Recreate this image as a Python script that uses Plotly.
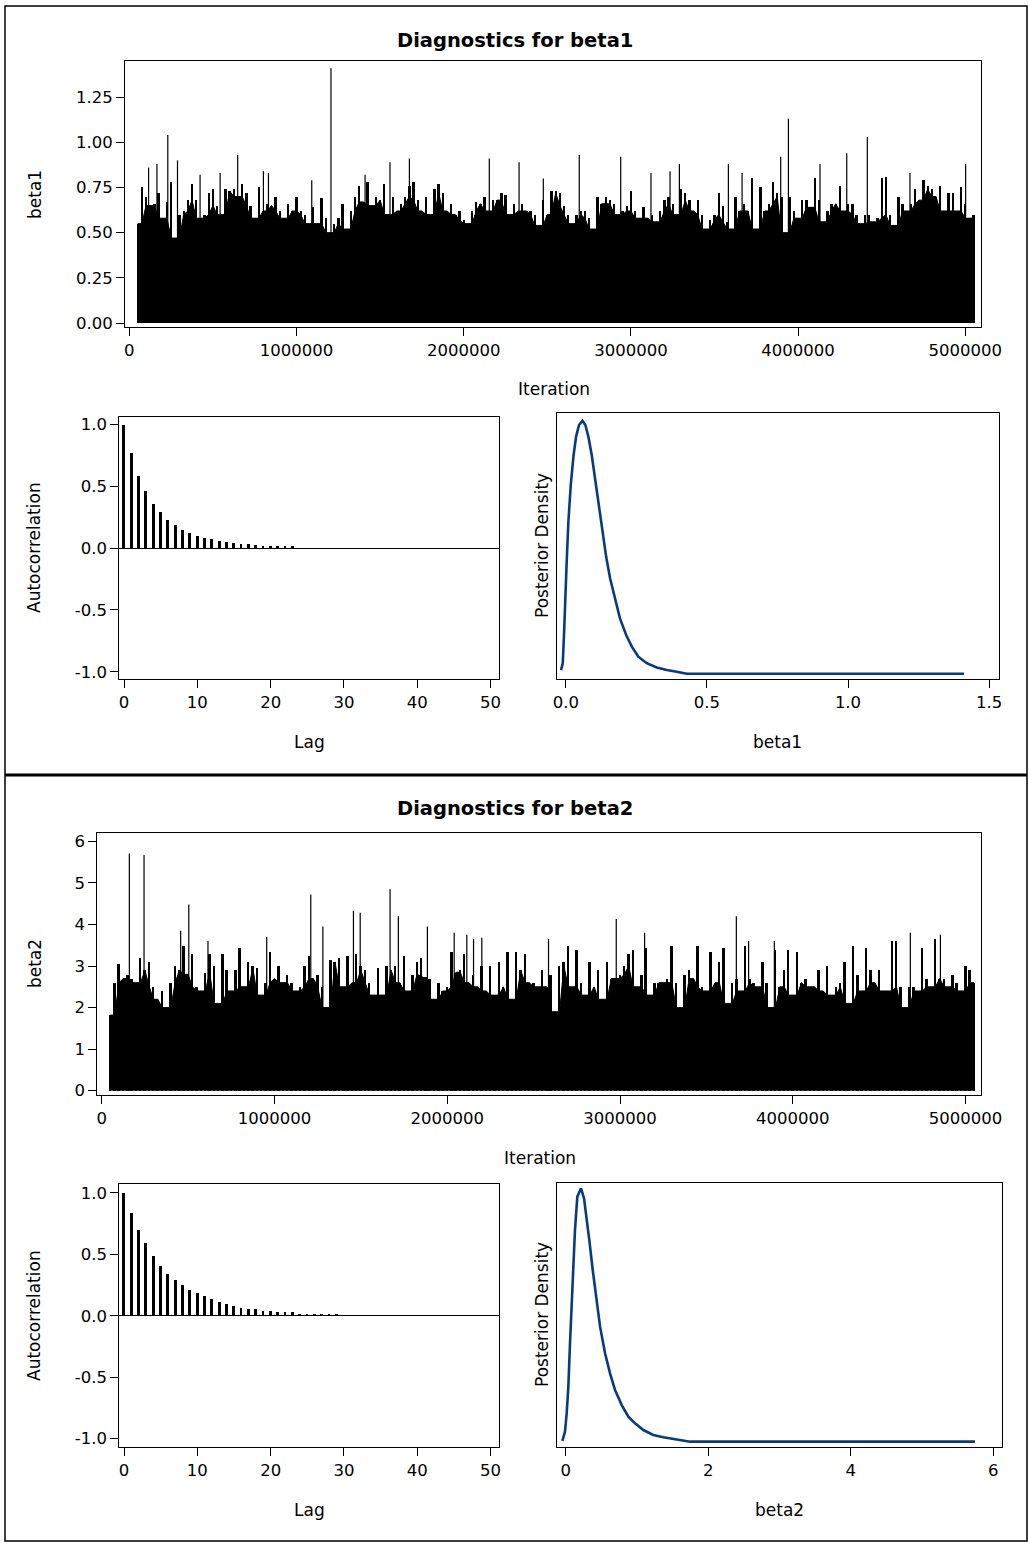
import plotly.graph_objects as go

# upper envelope of the MCMC trace, read every 25000 iterations from 50000 on
beta1_trace = [
    0.55, 0.75, 0.70, 0.65, 0.66, 0.72, 0.58, 0.67, 0.78, 0.47,
    0.60, 0.62, 0.68, 0.77, 0.68, 0.58, 0.60, 0.72, 0.74, 0.65,
    0.60, 0.74, 0.73, 0.74, 0.70, 0.77, 0.72, 0.65, 0.58, 0.75,
    0.62, 0.66, 0.65, 0.70, 0.62, 0.58, 0.66, 0.62, 0.70, 0.62,
    0.60, 0.55, 0.64, 0.55, 0.69, 0.58, 0.50, 0.55, 0.58, 0.66,
    0.52, 0.62, 0.70, 0.76, 0.67, 0.78, 0.65, 0.70, 0.68, 0.77,
    0.60, 0.70, 0.62, 0.66, 0.70, 0.76, 0.78, 0.68, 0.62, 0.70,
    0.60, 0.74, 0.77, 0.72, 0.62, 0.66, 0.60, 0.62, 0.57, 0.55,
    0.62, 0.67, 0.66, 0.70, 0.62, 0.68, 0.68, 0.72, 0.71, 0.60,
    0.66, 0.62, 0.66, 0.62, 0.62, 0.60, 0.54, 0.68, 0.60, 0.73,
    0.73, 0.72, 0.65, 0.60, 0.55, 0.60, 0.62, 0.62, 0.58, 0.52,
    0.70, 0.66, 0.70, 0.68, 0.66, 0.60, 0.62, 0.65, 0.73, 0.62,
    0.58, 0.64, 0.58, 0.60, 0.56, 0.62, 0.68, 0.70, 0.66, 0.60,
    0.74, 0.72, 0.68, 0.62, 0.68, 0.60, 0.52, 0.57, 0.60, 0.72,
    0.65, 0.56, 0.52, 0.70, 0.62, 0.66, 0.62, 0.80, 0.52, 0.75,
    0.62, 0.66, 0.78, 0.72, 0.70, 0.50, 0.70, 0.62, 0.58, 0.68,
    0.68, 0.64, 0.80, 0.68, 0.56, 0.62, 0.66, 0.66, 0.76, 0.62,
    0.66, 0.66, 0.60, 0.55, 0.60, 0.60, 0.56, 0.58, 0.80, 0.81,
    0.60, 0.54, 0.70, 0.66, 0.62, 0.66, 0.74, 0.68, 0.79, 0.76,
    0.74, 0.70, 0.76, 0.62, 0.72, 0.72, 0.62, 0.75, 0.66, 0.58,
    0.60,
]
beta1_spike_iter = [115000, 165000, 230000, 288000, 423000, 543000, 648000, 802000,
                    832000, 1091000, 1206000, 1410000, 1559000, 1675000, 2153000,
                    2331000, 2476000, 2691000, 2939000, 3120000, 3234000, 3290000,
                    3583000, 3665000, 3896000, 3942000, 4131000, 4291000, 4414000,
                    4669000, 5002000]
beta1_spike_val = [0.86, 0.88, 1.04, 0.90, 0.82, 0.83, 0.93, 0.84,
                   0.83, 0.79, 1.41, 0.82, 0.89, 0.91, 0.91,
                   0.89, 0.80, 0.93, 0.92, 0.83, 0.84, 0.88,
                   0.88, 0.83, 0.92, 1.13, 0.88, 0.94, 1.03,
                   0.83, 0.88]

beta2_trace = [
    1.82, 2.60, 3.05, 2.70, 2.80, 2.70, 2.60, 3.20, 2.90, 3.10,
    2.50, 2.20, 2.40, 2.00, 2.60, 3.00, 2.90, 3.50, 2.80, 3.30,
    2.50, 2.40, 2.85, 3.30, 3.00, 2.10, 3.30, 2.90, 2.40, 2.90,
    3.45, 2.50, 3.10, 3.00, 2.95, 2.30, 2.60, 3.35, 2.70, 3.00,
    2.60, 2.80, 2.60, 2.40, 2.50, 3.00, 3.25, 2.70, 2.80, 2.50,
    2.00, 3.15, 3.10, 3.20, 2.50, 3.25, 2.60, 3.30, 3.00, 2.90,
    2.60, 2.30, 2.95, 2.30, 3.00, 2.90, 3.00, 2.60, 3.25, 2.40,
    2.80, 3.10, 3.20, 2.75, 2.70, 2.20, 2.60, 2.40, 2.50, 3.35,
    2.85, 2.90, 3.30, 2.60, 2.80, 2.50, 3.00, 2.40, 3.00, 2.30,
    3.10, 2.50, 3.35, 2.20, 3.35, 2.90, 3.30, 2.60, 2.60, 2.50,
    2.90, 2.50, 2.80, 1.90, 3.00, 3.10, 3.50, 2.50, 3.40, 2.60,
    2.30, 3.10, 2.50, 2.90, 2.20, 3.10, 2.70, 2.70, 2.80, 3.00,
    3.30, 3.40, 2.50, 2.80, 3.45, 2.30, 2.60, 2.60, 2.60, 2.70,
    3.50, 2.60, 2.00, 2.80, 2.90, 2.70, 3.50, 2.50, 2.40, 3.35,
    2.60, 3.10, 3.45, 2.10, 2.60, 2.70, 2.40, 3.50, 2.70, 2.60,
    2.50, 3.10, 2.60, 2.00, 3.40, 2.50, 2.90, 3.40, 2.30, 3.35,
    2.60, 2.70, 2.50, 2.50, 2.90, 2.40, 3.00, 2.30, 2.50, 2.60,
    3.10, 2.10, 3.50, 2.80, 2.40, 3.45, 2.90, 2.60, 2.90, 2.40,
    2.40, 3.60, 3.60, 2.50, 2.00, 2.50, 2.50, 2.40, 3.45, 2.70,
    2.50, 3.65, 2.70, 2.70, 2.50, 2.80, 2.60, 2.40, 3.00, 2.90,
    2.60,
]
beta2_spike_iter = [160000, 245000, 457000, 504000, 615000, 955000, 1210000, 1280000,
                    1457000, 1496000, 1669000, 1717000, 1885000, 2040000, 2113000,
                    2152000, 2200000, 2586000, 2978000, 3142000, 3673000, 3744000,
                    3893000, 4680000, 4854000]
beta2_spike_val = [5.71, 5.67, 3.85, 4.48, 3.60, 3.70, 4.72, 3.95,
                   4.33, 4.28, 4.85, 4.20, 3.95, 3.80, 3.75,
                   3.65, 3.68, 3.65, 4.13, 3.80, 4.20, 3.60,
                   3.60, 3.80, 3.75]

# autocorrelations
beta1_acf = [1.0, 0.77, 0.586, 0.462, 0.357, 0.29, 0.226, 0.188, 0.15, 0.124,
             0.10, 0.086, 0.073, 0.059, 0.048, 0.046, 0.035, 0.032, 0.024, 0.022,
             0.02, 0.019, 0.018, 0.018]
beta2_acf = [1.0, 0.837, 0.692, 0.589, 0.482, 0.403, 0.341, 0.286, 0.248, 0.207,
             0.183, 0.158, 0.131, 0.106, 0.093, 0.076, 0.065, 0.052, 0.052, 0.038,
             0.038, 0.027, 0.025, 0.025, 0.016, 0.014, 0.014, 0.013, 0.013, 0.011]

# posterior densities
beta1_x = [-0.0167, -0.0107, -0.006, -0.0025, 0.0035, 0.0093, 0.0177, 0.027, 0.0365, 0.047,
           0.059, 0.0695, 0.080, 0.092, 0.104, 0.1157, 0.1275, 0.143, 0.157, 0.175,
           0.192, 0.214, 0.234, 0.257, 0.287, 0.322, 0.358, 0.393, 0.429, 1.411]
beta1_dens = [0.10, 0.29, 1.12, 1.99, 3.14, 4.21, 5.22, 6.00, 6.56, 6.88,
              7.00, 6.88, 6.56, 6.05, 5.40, 4.67, 4.02, 3.24, 2.64, 2.04,
              1.53, 1.07, 0.75, 0.47, 0.29, 0.17, 0.10, 0.055, 0.0, 0.0]
beta2_x = [-0.047, -0.0098, 0.0136, 0.037, 0.060, 0.084, 0.107, 0.130, 0.163, 0.215,
           0.257, 0.294, 0.331, 0.379, 0.435, 0.482, 0.552, 0.622, 0.692, 0.786,
           0.879, 0.973, 1.089, 1.229, 1.370, 1.557, 1.745, 5.743]
beta2_dens = [0.006, 0.087, 0.246, 0.478, 0.854, 1.216, 1.549, 1.838, 2.128, 2.2,
              2.113, 1.954, 1.751, 1.491, 1.201, 0.999, 0.767, 0.593, 0.449, 0.318,
              0.217, 0.159, 0.101, 0.058, 0.038, 0.020, 0.0, 0.0]

W, H = 1029, 1542
FONT = 'DejaVu Sans'
DENS_COLOR = '#083a7e'


def px(x):
    return x / W


def py(y):
    return 1 - y / H


def spikes(its, vals):
    xs, ys = [], []
    for it, v in zip(its, vals):
        xs += [it, it, None]
        ys += [0, v, None]
    return xs, ys


fig = go.Figure()

for trace, s_it, s_val, ax in [(beta1_trace, beta1_spike_iter, beta1_spike_val, 1),
                               (beta2_trace, beta2_spike_iter, beta2_spike_val, 4)]:
    its = [50000 + 25000 * i for i in range(len(trace))]
    xa = 'x' if ax == 1 else 'x%d' % ax
    ya = 'y' if ax == 1 else 'y%d' % ax
    # solid body of the trace: lowest of each neighbourhood
    n = len(trace)
    body = [min(trace[max(i - 1, 0):min(i + 2, n)]) for i in range(n)]
    fig.add_trace(go.Scatter(x=its, y=body, mode='lines', line=dict(color='black', width=1),
                             fill='tozeroy', fillcolor='black', xaxis=xa, yaxis=ya,
                             hoverinfo='skip'))
    # needles up to the envelope
    fig.add_trace(go.Bar(x=its, y=trace, width=14000, marker=dict(color='black', line=dict(width=0)),
                         xaxis=xa, yaxis=ya, hoverinfo='skip'))
    sx, sy = spikes(s_it, s_val)
    fig.add_trace(go.Scatter(x=sx, y=sy, mode='lines', line=dict(color='black', width=1.2),
                             xaxis=xa, yaxis=ya, hoverinfo='skip'))

fig.add_trace(go.Bar(x=list(range(len(beta1_acf))), y=beta1_acf, width=0.4,
                     marker=dict(color='black', line=dict(width=0)), xaxis='x2', yaxis='y2'))
fig.add_trace(go.Bar(x=list(range(len(beta2_acf))), y=beta2_acf, width=0.4,
                     marker=dict(color='black', line=dict(width=0)), xaxis='x5', yaxis='y5'))

fig.add_trace(go.Scatter(x=beta1_x, y=beta1_dens, mode='lines',
                         line=dict(color=DENS_COLOR, width=2.6), xaxis='x3', yaxis='y3'))
fig.add_trace(go.Scatter(x=beta2_x, y=beta2_dens, mode='lines',
                         line=dict(color=DENS_COLOR, width=2.6), xaxis='x6', yaxis='y6'))

axis_style = dict(showline=True, mirror=True, linecolor='black', linewidth=1,
                  ticks='outside', ticklen=8, tickwidth=1, tickcolor='black',
                  showgrid=False, zeroline=False, automargin=False,
                  tickfont=dict(family=FONT, size=16.5, color='black'))

iter_ticks = [0, 1000000, 2000000, 3000000, 4000000, 5000000]
iter_text = ['0', '1000000', '2000000', '3000000', '4000000', '5000000']
acf_ticks = [-1, -0.5, 0, 0.5, 1]
acf_text = ['-1.0', '-0.5', '0.0', '0.5', '1.0']

layout = dict(
    template='none',
    width=W, height=H, autosize=False,
    margin=dict(l=0, r=0, t=0, b=0, pad=0),
    paper_bgcolor='white', plot_bgcolor='white',
    showlegend=False, bargap=0, barmode='overlay',
    font=dict(family=FONT, color='black'),
    # beta1 trace
    xaxis=dict(domain=[px(125), px(981)], anchor='y', range=[-26000, 5094000],
               tickvals=iter_ticks, ticktext=iter_text, **axis_style),
    yaxis=dict(domain=[py(327), py(61)], anchor='x', range=[-0.022, 1.45],
               tickvals=[0, 0.25, 0.5, 0.75, 1.0, 1.25],
               ticktext=['0.00', '0.25', '0.50', '0.75', '1.00', '1.25'], **axis_style),
    # beta1 autocorrelation
    xaxis2=dict(domain=[px(119.3), px(499.3)], anchor='y2', range=[-0.65, 51.2],
                tickvals=[0, 10, 20, 30, 40, 50], **axis_style),
    yaxis2=dict(domain=[py(679.3), py(416.7)], anchor='x2', range=[-1.061, 1.061],
                tickvals=acf_ticks, ticktext=acf_text, **axis_style),
    # beta1 density
    xaxis3=dict(domain=[px(557.3), px(999)], anchor='y3', range=[-0.030, 1.535],
                tickvals=[0, 0.5, 1.0, 1.5], ticktext=['0.0', '0.5', '1.0', '1.5'], **axis_style),
    yaxis3=dict(domain=[py(679.3), py(413.3)], anchor='x3', range=[-0.155, 7.205],
                **{**axis_style, 'ticks': '', 'showticklabels': False}),
    # beta2 trace
    xaxis4=dict(domain=[px(97.3), px(981)], anchor='y4', range=[-25500, 5089000],
                tickvals=iter_ticks, ticktext=iter_text, **axis_style),
    yaxis4=dict(domain=[py(1094.7), py(832.7)], anchor='x4', range=[-0.096, 6.208],
                tickvals=[0, 1, 2, 3, 4, 5, 6], **axis_style),
    # beta2 autocorrelation
    xaxis5=dict(domain=[px(119.3), px(499.3)], anchor='y5', range=[-0.65, 51.2],
                tickvals=[0, 10, 20, 30, 40, 50], **axis_style),
    yaxis5=dict(domain=[py(1447.3), py(1184.3)], anchor='x5', range=[-1.07, 1.07],
                tickvals=acf_ticks, ticktext=acf_text, **axis_style),
    # beta2 density
    xaxis6=dict(domain=[px(557.3), px(1001.7)], anchor='y6', range=[-0.118, 6.117],
                tickvals=[0, 2, 4, 6], **axis_style),
    yaxis6=dict(domain=[py(1447.3), py(1182.7)], anchor='x6', range=[-0.049, 2.249],
                **{**axis_style, 'ticks': '', 'showticklabels': False}),
)
fig.update_layout(**layout)

# zero reference line on the autocorrelation panels
fig.update_layout(yaxis2=dict(zeroline=True, zerolinecolor='black', zerolinewidth=1),
                  yaxis5=dict(zeroline=True, zerolinecolor='black', zerolinewidth=1))

labels = [
    ('Diagnostics for beta1', 515, 40, 0, 19.5, True),
    ('beta1', 35, 195, -90, 17, False),
    ('Iteration', 554, 389, 0, 17, False),
    ('Autocorrelation', 34, 548, -90, 17, False),
    ('Lag', 309, 742, 0, 17, False),
    ('Posterior Density', 542, 546, -90, 17, False),
    ('beta1', 777, 742, 0, 17, False),
    ('Diagnostics for beta2', 515, 808, 0, 19.5, True),
    ('beta2', 35, 964, -90, 17, False),
    ('Iteration', 540, 1158, 0, 17, False),
    ('Autocorrelation', 34, 1316, -90, 17, False),
    ('Lag', 309, 1510, 0, 17, False),
    ('Posterior Density', 542, 1315, -90, 17, False),
    ('beta2', 779, 1510, 0, 17, False),
]
for text, x, y, angle, size, bold in labels:
    fig.add_annotation(text='<b>%s</b>' % text if bold else text,
                       x=px(x), y=py(y), xref='paper', yref='paper',
                       xanchor='center', yanchor='middle', showarrow=False,
                       textangle=angle, font=dict(family=FONT, size=size, color='black'))

# outer frame and divider between the two parameters
fig.add_shape(type='rect', xref='paper', yref='paper', x0=px(5), x1=px(1027),
              y0=py(1541), y1=py(6), line=dict(color='black', width=1.5))
fig.add_shape(type='line', xref='paper', yref='paper', x0=px(5), x1=px(1027),
              y0=py(775), y1=py(775), line=dict(color='black', width=3))

# page margin off so the figure fills the window exactly
fig.write_html("out.html", config={'displayModeBar': False},
               post_script="document.body.style.margin='0px';"
                           "document.documentElement.style.overflow='hidden';")
